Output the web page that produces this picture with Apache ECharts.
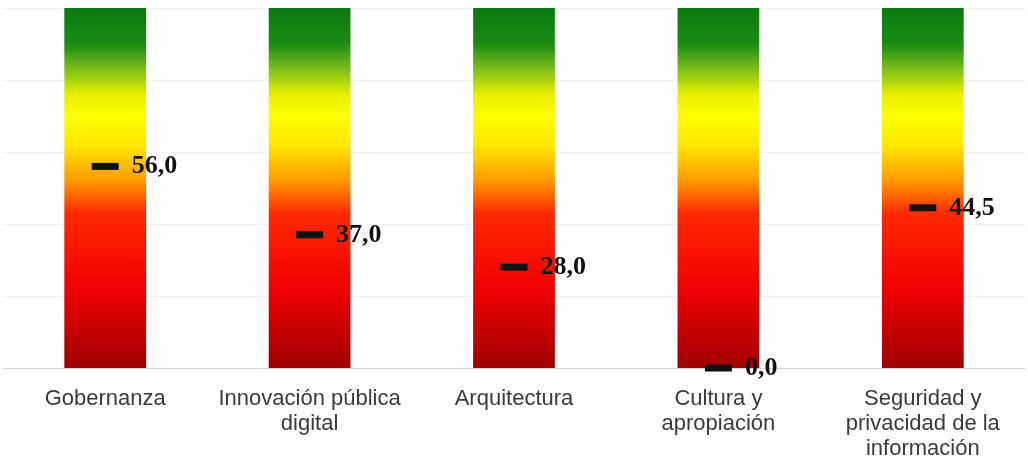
<!DOCTYPE html>
<html>
<head>
<meta charset="utf-8">
<script src="https://cdn.jsdelivr.net/npm/echarts@6/dist/echarts.min.js"></script>
<style>html,body{margin:0;padding:0;background:#fff;}#c{width:1028px;height:466px;}</style>
</head>
<body>
<div id="c"></div>
<script>
const categories = ['Gobernanza', 'Innovación pública\ndigital', 'Arquitectura', 'Cultura y\napropiación', 'Seguridad y\nprivacidad de la\ninformación'];
const scaleMax = [100, 100, 100, 100, 100];
const scores = [56.0, 37.0, 28.0, 0.0, 44.5];

const chart = echarts.init(document.getElementById('c'));
const grad = new echarts.graphic.LinearGradient(0, 0, 0, 1, [
  {offset: 0, color: '#0a7a10'},
  {offset: 0.1, color: '#1a8c14'},
  {offset: 0.17, color: '#7cbf1a'},
  {offset: 0.24, color: '#e8f000'},
  {offset: 0.3, color: '#ffff00'},
  {offset: 0.38, color: '#ffe800'},
  {offset: 0.48, color: '#ff9a00'},
  {offset: 0.57, color: '#ff2a00'},
  {offset: 0.78, color: '#f00000'},
  {offset: 1, color: '#a00000'}
]);
chart.setOption({
  animation: false,
  grid: {left: 3, right: 3, top: 8, bottom: 98},
  xAxis: {
    type: 'category',
    data: categories,
    axisLine: {lineStyle: {color: '#d8d8d8', width: 1}},
    axisTick: {show: false},
    axisLabel: {color: '#3a3a3a', fontFamily: 'Liberation Sans, Arial', fontSize: 22, margin: 18, lineHeight: 25, interval: 0}
  },
  yAxis: {
    type: 'value', min: 0, max: 100, interval: 20,
    axisLabel: {show: false},
    axisLine: {show: false},
    axisTick: {show: false},
    splitLine: {lineStyle: {color: '#f2f2f2'}}
  },
  series: [
    {
      type: 'bar',
      data: scaleMax,
      barWidth: '40%',
      itemStyle: {color: grad},
      silent: true
    },
    {
      type: 'scatter',
      data: scores,
      symbol: 'rect',
      symbolSize: [27, 7],
      itemStyle: {color: '#111', opacity: 1},
      z: 5,
      label: {
        show: true,
        position: 'right',
        distance: 13,
        formatter: p => p.value.toFixed(1).replace('.', ','),
        fontFamily: 'Liberation Serif, Times New Roman',
        fontWeight: 'bold',
        fontSize: 26,
        color: '#111'
      }
    }
  ]
});
</script>
</body>
</html>
